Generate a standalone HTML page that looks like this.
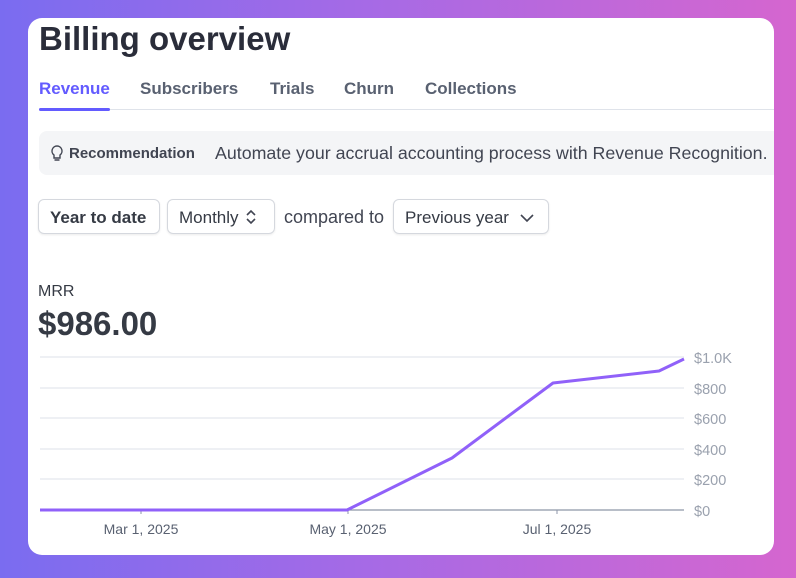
<!DOCTYPE html>
<html><head><style>
body{margin:0;width:796px;height:578px;overflow:hidden;background:linear-gradient(90deg,#7a6cf0 0%,#a56ae6 45%,#d566cf 100%);font-family:"Liberation Sans",sans-serif;position:relative}
.card{position:absolute;left:28px;top:18px;width:746px;height:537px;background:#fff;border-radius:14px;overflow:hidden}
.t{position:absolute;white-space:nowrap}
.btn{position:absolute;top:199px;height:35px;border:1px solid #d5d8de;border-radius:6px;box-shadow:0 1px 2px rgba(0,0,0,.08);font-size:17px;color:#353a44;line-height:35px;box-sizing:border-box}
</style></head><body>
<div class="card"></div>
<div class="t" style="left:39px;top:20px;font-size:33px;font-weight:bold;color:#2a2d3a">Billing overview</div>
<div class="t" style="left:39px;top:79px;font-size:17px;font-weight:bold;color:#635bff">Revenue</div>
<div class="t" style="left:140px;top:79px;font-size:17px;font-weight:bold;color:#596171">Subscribers</div>
<div class="t" style="left:270px;top:79px;font-size:17px;font-weight:bold;color:#596171">Trials</div>
<div class="t" style="left:344px;top:79px;font-size:17px;font-weight:bold;color:#596171">Churn</div>
<div class="t" style="left:425px;top:79px;font-size:17px;font-weight:bold;color:#596171">Collections</div>
<div style="position:absolute;left:39px;top:109px;width:735px;height:1px;background:#dfe3ea"></div>
<div style="position:absolute;left:39px;top:108px;width:71px;height:3px;background:#635bff;border-radius:2px"></div>
<div style="position:absolute;left:39px;top:131px;width:735px;height:44px;background:#f4f5f7;border-radius:8px 0 0 8px;overflow:hidden">
<svg style="position:absolute;left:12px;top:14px" width="12" height="17" viewBox="0 0 12 17"><path d="M6 1a5 5 0 0 0-3 9v3h6v-3a5 5 0 0 0-3-9z" fill="none" stroke="#414552" stroke-width="1.4"/><line x1="3.5" y1="15" x2="8.5" y2="15" stroke="#414552" stroke-width="1.4"/></svg>
<div class="t" style="left:30px;top:14px;font-size:15px;font-weight:bold;color:#414552">Recommendation</div>
<div class="t" style="left:176px;top:12px;font-size:17.8px;color:#414552">Automate your accrual accounting process with Revenue Recognition.</div>
</div>
<div class="btn" style="left:38px;width:122px;padding-left:11px;font-weight:bold">Year to date</div>
<div class="btn" style="left:167px;width:108px;padding-left:11px">Monthly <svg width="12" height="16" style="vertical-align:-2px;margin-left:2px"><path d="M2 6l4-4 4 4M2 10l4 4 4-4" fill="none" stroke="#414552" stroke-width="1.6"/></svg></div>
<div class="t" style="left:284px;top:207px;font-size:18px;color:#414552">compared to</div>
<div class="btn" style="left:393px;width:156px;padding-left:11px">Previous year <svg width="14" height="10" style="margin-left:6px"><path d="M1 2l6 6 6-6" fill="none" stroke="#414552" stroke-width="1.6"/></svg></div>
<div class="t" style="left:38px;top:283px;font-size:16px;color:#353a44">MRR</div>
<div class="t" style="left:38px;top:305px;font-size:33px;font-weight:bold;color:#353a44">$986.00</div>
<svg style="position:absolute;left:0;top:0" width="796" height="578">
<g stroke="#e3e7ee" stroke-width="1.2">
<line x1="40" y1="357" x2="684" y2="357"/><line x1="40" y1="388" x2="684" y2="388"/><line x1="40" y1="418" x2="684" y2="418"/><line x1="40" y1="449" x2="684" y2="449"/><line x1="40" y1="479" x2="684" y2="479"/>
</g>
<line x1="40" y1="510" x2="684" y2="510" stroke="#8d96a8" stroke-width="1.2"/>
<g stroke="#8d96a8"><line x1="141" y1="510" x2="141" y2="514"/><line x1="348" y1="510" x2="348" y2="514"/><line x1="557" y1="510" x2="557" y2="514"/></g>
<polyline points="40,510 347,510 452,458 553,383 659,371 684,359" fill="none" stroke="#9061f9" stroke-width="3" stroke-linejoin="round"/>
<g font-family="Liberation Sans" font-size="14.5" fill="#9aa1ae">
<text x="694" y="363">$1.0K</text><text x="694" y="394">$800</text><text x="694" y="424">$600</text><text x="694" y="455">$400</text><text x="694" y="485">$200</text><text x="694" y="516">$0</text>
</g>
<g font-family="Liberation Sans" font-size="14" fill="#596171" text-anchor="middle">
<text x="141" y="534">Mar 1, 2025</text><text x="348" y="534">May 1, 2025</text><text x="557" y="534">Jul 1, 2025</text>
</g>
</svg>
</body></html>
